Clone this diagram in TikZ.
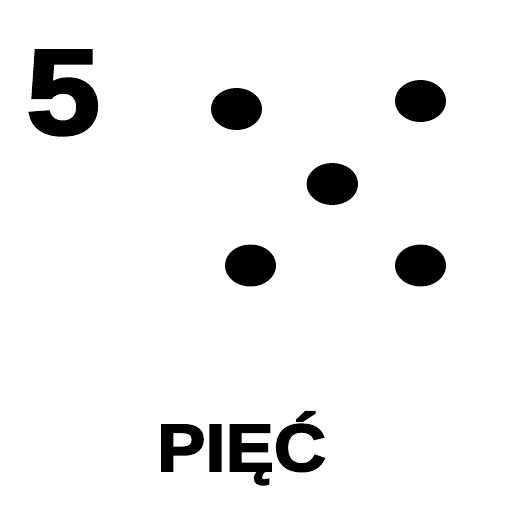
\documentclass[tikz,border=0pt]{standalone}
\usepackage{fontspec}
\setmainfont{Liberation Sans}
\newfontfamily\heavyfont[FakeBold=2.5,FakeStretch=1.08]{Liberation Sans Bold}
\newfontfamily\heavynum[FakeBold=2.5,FakeStretch=1.1]{Liberation Sans Bold}
\begin{document}
\begin{tikzpicture}[x=1pt,y=-1pt,
  dot/.style={fill=black},
  lbl/.style={inner sep=0pt,anchor=base west}]
\useasboundingbox (0,0) rectangle (512,512);
\node[lbl,font=\heavynum\fontsize{121}{121}\selectfont] (num) at (26,134) {5};
\fill[dot] (236.5,109) ellipse [x radius=25.5, y radius=21];
\fill[dot] (420.5,101) ellipse [x radius=25.5, y radius=21];
\fill[dot] (332.3,184) ellipse [x radius=25.7, y radius=21];
\fill[dot] (250.5,265.5) ellipse [x radius=25.5, y radius=21];
\fill[dot] (420.5,265.5) ellipse [x radius=25.5, y radius=21];
\node[lbl,font=\heavyfont\fontsize{67}{67}\selectfont] (word) at (157,471) {PIĘĆ};
\end{tikzpicture}
\end{document}
